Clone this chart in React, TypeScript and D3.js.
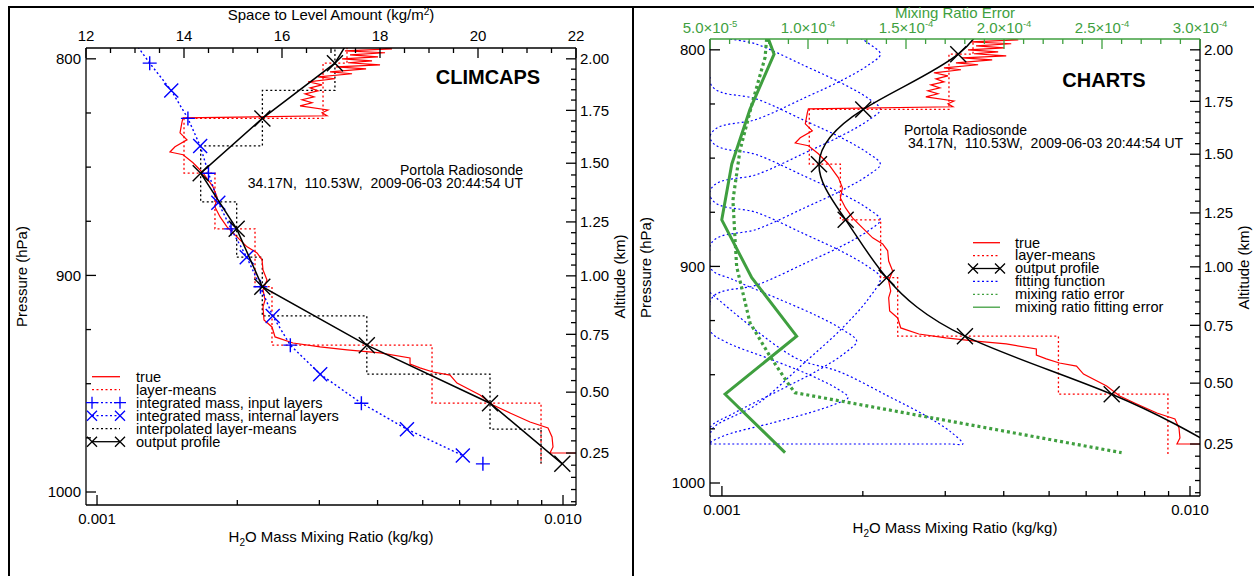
import React, { useRef, useEffect } from 'react';
import * as d3 from 'd3';

const W = 1254;
const H = 576;
const FONT = "'Liberation Sans', Arial, Helvetica, sans-serif";
const DOT = '2 2.5';
const GREEN = '#3f9f3f';

// retrieval levels (hPa)
const levelP = [802, 827.5, 852.8, 878.5, 905.2, 932.2, 959, 987];
const outP = [776, 802, 827.5, 852.8, 878.5, 905.2, 932.2, 959, 987];

// layer-means (kg/kg) between layer boundaries
const layerBounds = [776, 802, 827.5, 852.8, 878.5, 905.2, 932.2, 959, 987];
const layerMeans = [0.003439, 0.003055, 0.001537, 0.001791, 0.002183, 0.002374, 0.005235, 0.008971];

// radiosonde "true" profile
const sondeP = [792, 795.4, 796.3, 797.2, 798.2, 799.1, 800.0, 800.9, 801.8, 802.8, 803.7, 804.6, 806.0, 806.9, 808.3, 809.2, 810.6, 812.0, 813.4, 814.8, 816.2, 817.6, 818.9, 820.3, 821.7, 823.6, 824.9, 826.3, 827.3, 829.1, 834.2, 837.4, 840.6, 843.0, 844.3, 848.0, 852.7, 859.1, 863.7, 868.4, 873.0, 877.6, 882.2, 886.8, 889.6, 892.8, 897.5, 902.1, 906.7, 911.3, 914.5, 920.6, 923.8, 928.4, 931.2, 933.0, 934.4, 935.8, 938.1, 940.9, 942.7, 944.6, 946.0, 949.7, 955.2, 959.8, 963.5, 967.7, 970.4, 974.6, 979.2, 982.0, 982.0];
const sondeQ = [0.003162, 0.004296, 0.003405, 0.00415, 0.003491, 0.004009, 0.003356, 0.003892, 0.003456, 0.004049, 0.003258, 0.003779, 0.003162, 0.003526, 0.002981, 0.003241, 0.002837, 0.00304, 0.002865, 0.002981, 0.002795, 0.002922, 0.002754, 0.002894, 0.002727, 0.003131, 0.00304, 0.003115, 0.00153, 0.001522, 0.001507, 0.00156, 0.00147, 0.001434, 0.00153, 0.001607, 0.001688, 0.001774, 0.001809, 0.001791, 0.001837, 0.001901, 0.001997, 0.002099, 0.002205, 0.00226, 0.002271, 0.002316, 0.002271, 0.002294, 0.002271, 0.002282, 0.002374, 0.00241, 0.002634, 0.00301, 0.00344, 0.004049, 0.004696, 0.004696, 0.004932, 0.00526, 0.005722, 0.005922, 0.006636, 0.007075, 0.007696, 0.008497, 0.009286, 0.009472, 0.009517, 0.009378, 0.010664];

// CLIMCAPS
const climOutQ = [0.00384, 0.00324, 0.002264, 0.001669, 0.001994, 0.002263, 0.003793, 0.006972, 0.009965];
const massInputQ = [13.30, 14.08, 14.50, 14.96, 15.56, 16.17, 17.62, 20.10];
const massInternalP = [789.5, 814.6, 840.2, 866.4, 891.6, 918.7, 945.6, 971.0, 983.2];
const massInternalQ = [12.9, 13.74, 14.33, 14.70, 15.28, 15.81, 16.78, 18.55, 19.69];
const interpBounds = [789.5, 814.6, 840.2, 866.0, 891.6, 918.7, 945.6, 971.0, 987];
const interpMeans = [0.00324, 0.002264, 0.001669, 0.001994, 0.002263, 0.003793, 0.006972, 0.008971];

// CHARTS
const chartsOutQ = [0.00374, 0.003198, 0.002004, 0.001612, 0.001838, 0.002248, 0.003305, 0.006803, 0.0122];
const fitErrP = [776, 802, 827.5, 852.8, 878.5, 905.2, 932.2, 959, 986];
const fitErr = [7.2e-5, 8.27e-5, 7.04e-5, 6.11e-5, 5.6e-5, 7.13e-5, 9.42e-5, 5.77e-5, 8.83e-5];
const mrErrP = [795, 803.5, 823.4, 846.4, 869.4, 887.8, 900.1, 926, 941.5, 955.3, 958.3, 986];
const mrErr = [7.89e-5, 7.81e-5, 7.19e-5, 6.53e-5, 6.17e-5, 6.28e-5, 6.36e-5, 7.04e-5, 8.06e-5, 9.08e-5, 9.34e-5, 2.6e-4];

// fitting functions: centre, peak, half-widths above / below (hPa)
const fitCenterP = [802, 827.5, 852.8, 878.5, 905.2, 934.5, 960.5, 982];
const fitPeakQ = [0.00218, 0.00218, 0.00218, 0.00218, 0.00218, 0.00194, 0.00186, 0.00327];
const fitUp = [36, 36, 36, 36, 36, 34, 31, 40];
const fitDown = [36, 36, 36, 36, 70, 40, 21, 0];
const fitGrid = [776, 982];
// shared hump shape: fraction of half-width, ratio to peak
const shapeFrac = [1, 0.833, 0.556, 0.333, 0.139, 0];
const shapeRatio = [0.437, 0.546, 0.691, 0.829, 0.943, 1];

// altitude axis (km) and matching pressure
const altKm = [2.0, 1.75, 1.5, 1.25, 1.0, 0.75, 0.5, 0.25];
const altP = [800, 823.8, 848.2, 875.3, 900.2, 927.2, 953.9, 982];
const altLabels = ['2.00', '1.75', '1.50', '1.25', '1.00', '0.75', '0.50', '0.25'];

const topLTicks = [12, 14, 16, 18, 20, 22];
const topRTicks = [5e-5, 1e-4, 1.5e-4, 2e-4, 2.5e-4, 3e-4];
const topRLabels = ['5.0', '1.0', '1.5', '2.0', '2.5', '3.0'];
const topRExp = ['-5', '-4', '-4', '-4', '-4', '-4'];

type Box = { l: number; r: number; t: number; b: number };

const xPath = (s: number) => `M${-s},${-s}L${s},${s}M${-s},${s}L${s},${-s}`;
const plusPath = (s: number) => `M${-s},0L${s},0M0,${-s}L0,${s}`;

function stepPoints(bounds: number[], vals: number[]) {
  const pts: [number, number][] = [];
  vals.forEach((v, i) => {
    pts.push([v, bounds[i]]);
    pts.push([v, bounds[i + 1]]);
  });
  return pts;
}

function drawAxes(svg: any, box: Box, x: any, y: any, topColor: string) {
  const g = svg.append('g');
  const line = (x1: number, y1: number, x2: number, y2: number, c = '#000', w = 1.3) =>
    g.append('line').attr('x1', x1).attr('y1', y1).attr('x2', x2).attr('y2', y2).attr('stroke', c).attr('stroke-width', w);

  line(box.l, box.b, box.r, box.b);
  line(box.l, box.t, box.l, box.b);
  line(box.r, box.t, box.r, box.b);
  line(box.l, box.t, box.r, box.t, topColor);

  // pressure axis
  d3.range(800, 1001, 25).forEach(p => {
    const major = p % 100 === 0;
    line(box.l, y(p), box.l + (major ? 10 : 5), y(p));
    if (major) {
      g.append('text').attr('x', box.l - 5).attr('y', y(p)).attr('dy', '0.35em')
        .attr('text-anchor', 'end').attr('font-size', 15).text(p);
    }
  });

  // altitude axis
  const alt = d3.scaleLinear().domain(altKm).range(altP);
  d3.range(1, 42).map(i => i * 0.05).forEach(k => {
    const p = alt(k);
    if (p < 796 || p > 1005) return;
    const major = Math.abs(k * 4 - Math.round(k * 4)) < 1e-6;
    line(box.r - (major ? 10 : 5), y(p), box.r, y(p));
  });
  altKm.forEach((k, i) => {
    g.append('text').attr('x', box.r + 4).attr('y', y(altP[i])).attr('dy', '0.35em')
      .attr('font-size', 15).text(altLabels[i]);
  });

  // log mixing ratio axis
  d3.range(1, 11).forEach(i => {
    const v = i * 0.001;
    const major = i === 1 || i === 10;
    line(x(v), box.b, x(v), box.b - (major ? 10 : 5));
  });
  [0.001, 0.01].forEach((v, i) => {
    g.append('text').attr('x', x(v)).attr('y', box.b + 19).attr('text-anchor', 'middle')
      .attr('font-size', 15).text(i === 0 ? '0.001' : '0.010');
  });
  const t = g.append('text').attr('x', (box.l + box.r) / 2).attr('y', box.b + 37)
    .attr('text-anchor', 'middle').attr('font-size', 15);
  t.append('tspan').text('H');
  t.append('tspan').attr('font-size', 10).attr('dy', 4).text('2');
  t.append('tspan').attr('dy', -4).text('O Mass Mixing Ratio (kg/kg)');

  g.append('text').attr('transform', `translate(${box.l - 59},${(box.t + box.b) / 2}) rotate(-90)`)
    .attr('text-anchor', 'middle').attr('font-size', 15).text('Pressure (hPa)');
  g.append('text').attr('transform', `translate(${box.r + 49},${(box.t + box.b) / 2}) rotate(-90)`)
    .attr('text-anchor', 'middle').attr('font-size', 15).text('Altitude (km)');
  return g;
}

function legend(svg: any, x0: number, x1: number, tx: number, y0: number, dy: number, items: any[]) {
  const g = svg.append('g');
  items.forEach((it, i) => {
    const yy = y0 + i * dy;
    g.append('line').attr('x1', x0).attr('x2', x1).attr('y1', yy).attr('y2', yy)
      .attr('stroke', it.color).attr('stroke-width', 1.3).attr('stroke-dasharray', it.dash || null);
    if (it.marker) {
      [x0, x1].forEach(mx => g.append('path').attr('d', it.marker === 'x' ? xPath(5) : plusPath(6))
        .attr('transform', `translate(${mx},${yy})`).attr('stroke', it.color).attr('stroke-width', 1.3).attr('fill', 'none'));
    }
    g.append('text').attr('x', tx).attr('y', yy).attr('dy', '0.33em').attr('font-size', 14.6).text(it.label);
  });
}

function annotation(svg: any, x: number, y: number, anchor: string) {
  svg.append('text').attr('x', x).attr('y', y).attr('text-anchor', anchor).attr('font-size', 14)
    .text('Portola Radiosonde');
  svg.append('text').attr('x', x).attr('y', y + 13).attr('text-anchor', anchor).attr('font-size', 14)
    .attr('xml:space', 'preserve').style('white-space', 'pre')
    .text(anchor === 'end' ? '34.17N,  110.53W,  2009-06-03 20:44:54 UT' : ' 34.17N,  110.53W,  2009-06-03 20:44:54 UT');
}

export default function App() {
  const ref = useRef<SVGSVGElement>(null);

  useEffect(() => {
    const svg = d3.select(ref.current);
    svg.selectAll('*').remove();
    svg.append('rect').attr('width', W).attr('height', H).attr('fill', '#fff');

    // figure frame
    svg.append('path').attr('d', `M9,${H}V7H${W}M633,7V${H}`).attr('fill', 'none')
      .attr('stroke', '#000').attr('stroke-width', 2);

    const defs = svg.append('defs');

    // ---------- CLIMCAPS ----------
    const L: Box = { l: 86, r: 576, t: 48, b: 505 };
    const xL = d3.scaleLog().domain([0.000947, 0.010663]).range([L.l, L.r]);
    const yL = d3.scaleLinear().domain([795, 1006]).range([L.t, L.b]);
    const topL = d3.scaleLinear().domain([12, 22]).range([L.l, L.r]);
    defs.append('clipPath').attr('id', 'clipL').append('rect')
      .attr('x', L.l).attr('y', L.t).attr('width', L.r - L.l).attr('height', L.b - L.t);

    const gL = svg.append('g').attr('clip-path', 'url(#clipL)');
    const lineL = d3.line<[number, number]>().x(d => xL(d[0])).y(d => yL(d[1]));
    const lineTop = d3.line<[number, number]>().x(d => topL(d[0])).y(d => yL(d[1]));

    gL.append('path').attr('d', lineL(stepPoints(interpBounds, interpMeans)))
      .attr('fill', 'none').attr('stroke', '#000').attr('stroke-width', 1.3).attr('stroke-dasharray', DOT);
    gL.append('path').attr('d', lineL(stepPoints(layerBounds, layerMeans)))
      .attr('fill', 'none').attr('stroke', 'red').attr('stroke-width', 1.3).attr('stroke-dasharray', DOT);
    gL.append('path').attr('d', lineL(sondeP.map((p, i) => [sondeQ[i], p] as [number, number])))
      .attr('fill', 'none').attr('stroke', 'red').attr('stroke-width', 1.2);

    const lastInternal = massInternalP[massInternalP.length - 1];
    const massPts = [
      ...levelP.map((p, i) => [massInputQ[i], p] as [number, number]),
      ...massInternalP.map((p, i) => [massInternalQ[i], p] as [number, number]),
    ].filter(d => d[1] <= lastInternal).sort((a, b) => a[1] - b[1]);
    gL.append('path').attr('d', lineTop(massPts)).attr('fill', 'none').attr('stroke', 'blue')
      .attr('stroke-width', 1.4).attr('stroke-dasharray', DOT);
    levelP.forEach((p, i) => gL.append('path').attr('d', plusPath(7))
      .attr('transform', `translate(${topL(massInputQ[i])},${yL(p)})`).attr('stroke', 'blue').attr('stroke-width', 1.4));
    massInternalP.forEach((p, i) => gL.append('path').attr('d', xPath(7))
      .attr('transform', `translate(${topL(massInternalQ[i])},${yL(p)})`).attr('stroke', 'blue').attr('stroke-width', 1.4));

    gL.append('path').attr('d', lineL(outP.map((p, i) => [climOutQ[i], p] as [number, number])))
      .attr('fill', 'none').attr('stroke', '#000').attr('stroke-width', 1.5);
    outP.forEach((p, i) => gL.append('path').attr('d', xPath(8))
      .attr('transform', `translate(${xL(climOutQ[i])},${yL(p)})`).attr('stroke', '#000').attr('stroke-width', 1.4));

    drawAxes(svg, L, xL, yL, '#000');
    // top axis: space to level amount
    d3.range(12, 22.01, 0.5).forEach(v => {
      const major = v % 2 === 0;
      svg.append('line').attr('x1', topL(v)).attr('x2', topL(v)).attr('y1', L.t).attr('y2', L.t + (major ? 10 : 5))
        .attr('stroke', '#000').attr('stroke-width', 1.3);
    });
    topLTicks.forEach(v => svg.append('text').attr('x', topL(v)).attr('y', L.t - 7)
      .attr('text-anchor', 'middle').attr('font-size', 15).text(v));
    const tl = svg.append('text').attr('x', (L.l + L.r) / 2).attr('y', 20).attr('text-anchor', 'middle').attr('font-size', 15);
    tl.append('tspan').text('Space to Level Amount (kg/m');
    tl.append('tspan').attr('font-size', 10).attr('dy', -5).text('2');
    tl.append('tspan').attr('dy', 5).text(')');

    svg.append('text').attr('x', 488).attr('y', 84).attr('text-anchor', 'middle').attr('font-size', 20)
      .attr('font-weight', 'bold').text('CLIMCAPS');
    annotation(svg, 523, 175, 'end');
    legend(svg, 92, 120, 136, 376.7, 13, [
      { label: 'true', color: 'red' },
      { label: 'layer-means', color: 'red', dash: DOT },
      { label: 'integrated mass, input layers', color: 'blue', dash: DOT, marker: '+' },
      { label: 'integrated mass, internal layers', color: 'blue', dash: DOT, marker: 'x' },
      { label: 'interpolated layer-means', color: '#000', dash: DOT },
      { label: 'output profile', color: '#000', marker: 'x' },
    ]);

    // ---------- CHARTS ----------
    const R: Box = { l: 710, r: 1200, t: 39, b: 496 };
    const xR = d3.scaleLog().domain([0.000943, 0.010504]).range([R.l, R.r]);
    const xRc = d3.scaleLog().domain([0.000943, 0.010504]).range([R.l, R.r]).clamp(true);
    const yR = d3.scaleLinear().domain([795, 1006]).range([R.t, R.b]);
    const topR = d3.scaleLinear().domain([5e-5, 3e-4]).range([R.l, R.r]);
    defs.append('clipPath').attr('id', 'clipR').append('rect')
      .attr('x', R.l).attr('y', R.t).attr('width', R.r - R.l).attr('height', R.b - R.t);
    const gR = svg.append('g').attr('clip-path', 'url(#clipR)');
    const lineR = d3.line<[number, number]>().x(d => xR(d[0])).y(d => yR(d[1]));

    // fitting functions (values below the axis fall onto the left edge)
    const lineFit = d3.line<[number, number]>().x(d => xRc(d[0])).y(d => yR(d[1])).curve(d3.curveCatmullRom);
    fitCenterP.forEach((c, i) => {
      const up = shapeFrac.map((f, j) => [fitPeakQ[i] * shapeRatio[j], c - f * fitUp[i]] as [number, number]);
      const down = shapeFrac.slice(0, -1).reverse().map((f, j) =>
        [fitPeakQ[i] * shapeRatio[shapeRatio.length - 2 - j], c + f * fitDown[i]] as [number, number]);
      const top = Math.max(fitGrid[0], c - fitUp[i] - 30);
      const bot = Math.min(fitGrid[1], c + fitDown[i] + 30);
      const pts: [number, number][] = [[0.0005, top], ...up, ...down, [0.0005, bot]];
      gR.append('path').attr('d', lineFit(pts)).attr('fill', 'none').attr('stroke', 'blue')
        .attr('stroke-width', 1.2).attr('stroke-dasharray', DOT);
    });

    const lineG = d3.line<[number, number]>().x(d => topR(d[0])).y(d => yR(d[1]));
    gR.append('path').attr('d', lineG(mrErrP.map((p, i) => [mrErr[i], p] as [number, number])))
      .attr('fill', 'none').attr('stroke', GREEN).attr('stroke-width', 3.2).attr('stroke-dasharray', '3 3');
    gR.append('path').attr('d', lineG(fitErrP.map((p, i) => [fitErr[i], p] as [number, number])))
      .attr('fill', 'none').attr('stroke', GREEN).attr('stroke-width', 3);

    gR.append('path').attr('d', lineR(stepPoints(layerBounds, layerMeans)))
      .attr('fill', 'none').attr('stroke', 'red').attr('stroke-width', 1.3).attr('stroke-dasharray', DOT);
    gR.append('path').attr('d', lineR(sondeP.map((p, i) => [sondeQ[i], p] as [number, number])))
      .attr('fill', 'none').attr('stroke', 'red').attr('stroke-width', 1.2);

    const lineSmooth = d3.line<[number, number]>().x(d => xR(d[0])).y(d => yR(d[1])).curve(d3.curveNatural);
    gR.append('path').attr('d', lineSmooth(outP.map((p, i) => [chartsOutQ[i], p] as [number, number])))
      .attr('fill', 'none').attr('stroke', '#000').attr('stroke-width', 1.5);
    outP.forEach((p, i) => gR.append('path').attr('d', xPath(8))
      .attr('transform', `translate(${xR(chartsOutQ[i])},${yR(p)})`).attr('stroke', '#000').attr('stroke-width', 1.4));

    drawAxes(svg, R, xR, yR, GREEN);
    d3.range(0, 26).forEach(i => {
      const v = 5e-5 + i * 1e-5;
      const major = i % 5 === 0;
      svg.append('line').attr('x1', topR(v)).attr('x2', topR(v)).attr('y1', R.t).attr('y2', R.t + (major ? 10 : 5))
        .attr('stroke', GREEN).attr('stroke-width', 1.3);
    });
    topRTicks.forEach((v, i) => {
      const t = svg.append('text').attr('x', topR(v)).attr('y', R.t - 6).attr('text-anchor', 'middle')
        .attr('font-size', 15).attr('fill', GREEN);
      t.append('tspan').text(`${topRLabels[i]}\u00d710`);
      t.append('tspan').attr('font-size', 9.5).attr('dy', -6).text(topRExp[i]);
    });
    svg.append('text').attr('x', (R.l + R.r) / 2).attr('y', 18).attr('text-anchor', 'middle')
      .attr('font-size', 15).attr('fill', GREEN).text('Mixing Ratio Error');

    svg.append('text').attr('x', 1104).attr('y', 87).attr('text-anchor', 'middle').attr('font-size', 20)
      .attr('font-weight', 'bold').text('CHARTS');
    annotation(svg, 904, 135, 'start');
    legend(svg, 973, 1000, 1015, 242.7, 12.9, [
      { label: 'true', color: 'red' },
      { label: 'layer-means', color: 'red', dash: DOT },
      { label: 'output profile', color: '#000', marker: 'x' },
      { label: 'fitting function', color: 'blue', dash: DOT },
      { label: 'mixing ratio error', color: GREEN, dash: DOT },
      { label: 'mixing ratio fitting error', color: GREEN },
    ]);
  }, []);

  return (
    <svg ref={ref} width={W} height={H}
      style={{ position: 'absolute', left: 0, top: 0, fontFamily: FONT }} />
  );
}
